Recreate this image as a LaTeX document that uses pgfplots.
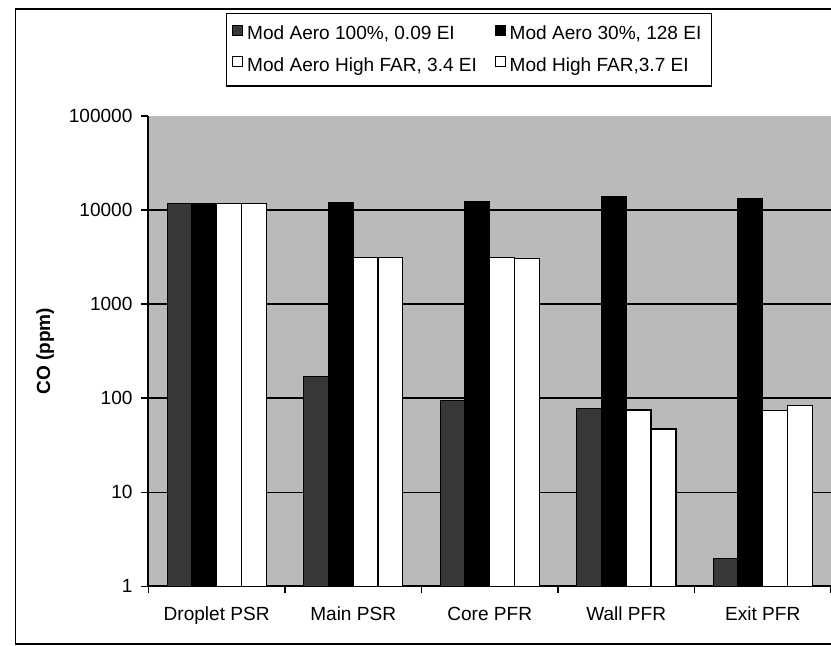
\documentclass[border=0pt]{standalone}
\usepackage{fontspec}
\setmainfont{Liberation Sans}
\usepackage{pgfplots}
\pgfplotsset{compat=1.18}

\begin{document}
\newcommand{\lab}{\fontsize{9.6}{11.5}\selectfont}
\begin{tikzpicture}
\begin{axis}[
  name=ax,
  scale only axis,
  width=344pt, height=237pt,
  ybar=0pt, bar width=12.5pt,
  ymode=log, ymin=1, ymax=100000,
  xmin=-0.5, xmax=4.5,
  axis lines*=left,
  axis line style={-, line width=0.9pt},
  axis background/.style={fill=black!27},
  tick align=outside,
  major tick length=3.5pt, minor tick length=3.5pt,
  tick style={line width=0.8pt, black},
  xtick={0,1,2,3,4},
  xticklabels={Droplet PSR, Main PSR, Core PFR, Wall PFR, Exit PFR},
  minor xtick={-0.5,0.5,1.5,2.5,3.5,4.5},
  major x tick style={draw=none},
  xticklabel style={font=\lab, yshift=-3.4pt},
  ytick={1,10,100,1000,10000},
  yticklabels={1,10,100,1000,10000},
  extra y ticks={100000},
  extra y tick labels={100000},
  extra y tick style={grid=none},
  yticklabel style={font=\lab, xshift=-1pt},
  yminorticks=false,
  ymajorgrids,
  grid style={line width=0.8pt, black},
  /pgf/number format/assume math mode=true,
  ylabel={CO (ppm)},
  every axis y label/.style={at={(axis description cs:-0.1512,0.5)},
    rotate=90, anchor=center, font=\lab\bfseries},
  legend columns=2,
  legend cell align=left,
  legend style={at={(axis description cs:0.1134,1.219)}, anchor=north west,
    font=\lab, draw=black, line width=0.6pt, inner xsep=3pt, inner ysep=4pt,
    /tikz/row sep=3.5pt,
    /tikz/every even column/.append style={column sep=7pt}},
  legend image code/.code={\draw[#1, line width=0.5pt] (0pt,-0.6pt) rectangle (5pt,4.4pt);},
]
% CO (ppm) per reactor: Droplet PSR, Main PSR, Core PFR, Wall PFR, Exit PFR
\addplot[fill=black!78, draw=black, line width=0.5pt] coordinates
  {(0,11800) (1,170) (2,95) (3,78) (4,2.0)};
\addlegendentry{Mod Aero 100\%, 0.09 EI}
\addplot[fill=black, draw=black, line width=0.5pt] coordinates
  {(0,11800) (1,12200) (2,12500) (3,13800) (4,13200)};
\addlegendentry{Mod Aero 30\%, 128 EI}
\addplot[fill=white, draw=black, line width=0.7pt] coordinates
  {(0,11800) (1,3150) (2,3150) (3,75) (4,74)};
\addlegendentry{Mod Aero High FAR, 3.4 EI}
\addplot[fill=white, draw=black, line width=0.7pt] coordinates
  {(0,11800) (1,3150) (2,3080) (3,47) (4,84)};
\addlegendentry{Mod High FAR,3.7 EI}
\end{axis}
% chart area frame
\draw[line width=0.6pt] ([xshift=-67pt,yshift=-29pt]ax.south west)
  rectangle ([xshift=10pt,yshift=54pt]ax.north east);
\pgfresetboundingbox
\path[use as bounding box] ([xshift=-72pt,yshift=-30pt]ax.south west)
  rectangle ([yshift=58.5pt]ax.north east);
\end{tikzpicture}
\end{document}
